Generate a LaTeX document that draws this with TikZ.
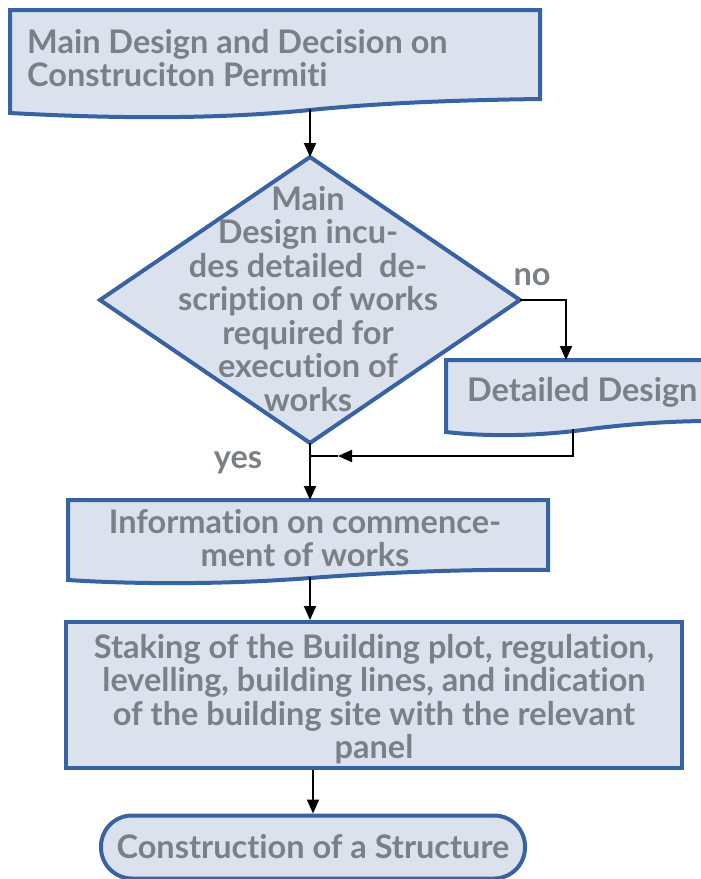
\documentclass[tikz,border=0pt]{standalone}
\usepackage{fontspec}
\setmainfont{Lato}[Ligatures=NoCommon]
\usetikzlibrary{arrows.meta,positioning}
\definecolor{boxfill}{RGB}{220,225,238}
\definecolor{boxline}{RGB}{56,99,163}
\definecolor{boxtext}{RGB}{123,127,134}
\tikzset{
  flow/.style={line width=4pt, draw=boxline, fill=boxfill},
  txt/.style={text=boxtext, font=\fontsize{32.5}{33.5}\selectfont\bfseries, align=center, inner sep=0pt},
  conn/.style={line width=2pt, -{Triangle[length=14pt,width=12pt]}},
}
\begin{document}
\begin{tikzpicture}[x=1pt, y=-1pt]
  \useasboundingbox (0,0) rectangle (701,879);
  % main design and permit
  \draw[flow] (10,10) -- (540,10) -- (540,99) .. controls (470,100) and (390,102) .. (310,110)
    .. controls (220,119) and (120,119) .. (10,113) -- cycle;
  \node[txt, align=left, anchor=west] (design) at (27,58) {Main Design and Decision on\\Construciton Permiti};
  \coordinate (design-s) at (310,109);
  % decision
  \draw[flow] (310,157) -- (520,300) -- (310,443) -- (100,300) -- cycle;
  \node[txt] (check) at (308,299) {Main\\Design incu-\\des detailed\ \ de-\\scription of works\\required for\\execution of\\works};
  \coordinate (check-n) at (310,157);
  \coordinate (check-e) at (520,300);
  \coordinate (check-s) at (310,443);
  \node[txt] (no) at (532,277) {no};
  \node[txt] (yes) at (238,463) {yes};
  % detailed design
  \draw[flow] (446,360) -- (712,360) -- (712,421) .. controls (670,421) and (630,424) .. (590,429)
    .. controls (540,436) and (490,437) .. (446,432) -- cycle;
  \node[txt, anchor=west] (detail) at (467,392) {Detailed Design};
  \coordinate (detail-n) at (566,360);
  \coordinate (detail-s) at (573,429);
  \coordinate (merge) at (310,456);
  \coordinate (mergetip) at (338,456);
  % commencement
  \draw[flow] (68,500) -- (548,500) -- (548,570) .. controls (470,569) and (390,572) .. (310,578)
    .. controls (220,585) and (130,584) .. (68,580) -- cycle;
  \node[txt] (info) at (305,538) {Information on commence-\\ment of works};
  \coordinate (info-n) at (310,500);
  \coordinate (info-s) at (310,577);
  % staking
  \node[flow, minimum width=616pt, minimum height=146pt] (staking) at (374,695) {};
  \node[txt] (stakingtext) at (374,699) {Staking of the Building plot, regulation,\\levelling, building lines, and indication\\of the building site with the relevant\\panel};
  % end
  \node[flow, txt, rounded corners=31pt, minimum width=424pt, minimum height=63pt] (build) at (313,847) {Construction of a Structure};
  % connectors
  \draw[conn] (design-s) -- (check-n);
  \draw[conn] (check-e) -| (detail-n);
  \draw[conn] (detail-s) |- (mergetip);
  \draw[line width=2pt] (mergetip) -- (merge);
  \draw[conn] (check-s) -- (info-n);
  \draw[conn] (info-s) -- (info-s |- staking.north);
  \draw[conn] (staking.south -| build) -- (build.north);
\end{tikzpicture}
\end{document}
